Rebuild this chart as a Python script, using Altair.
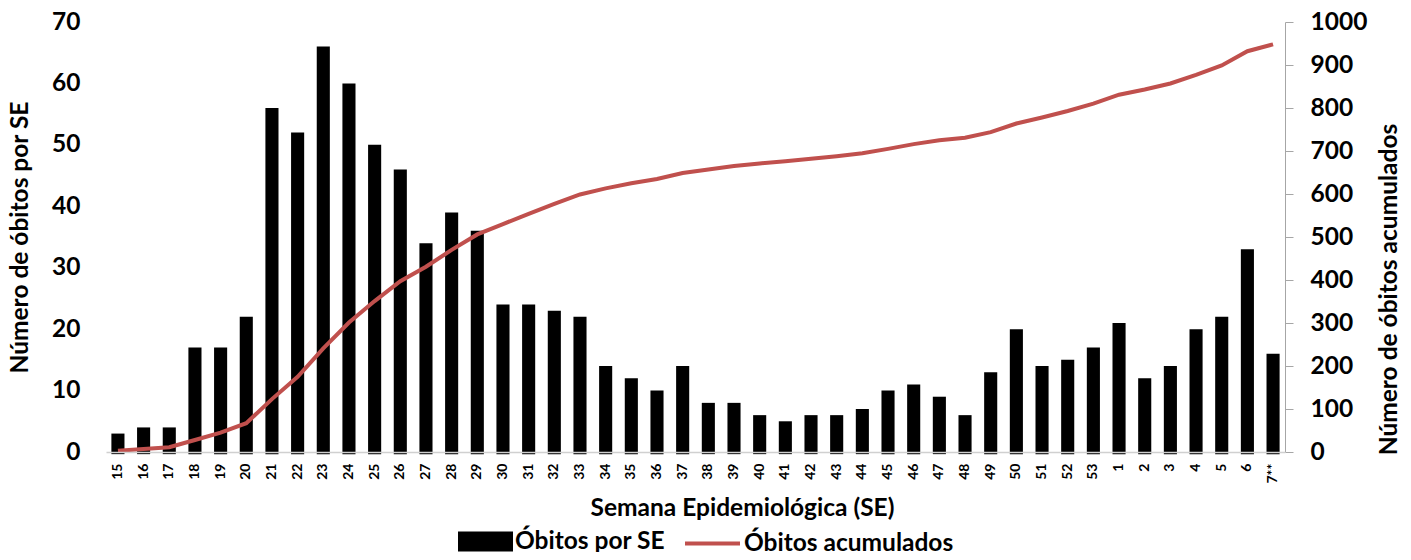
import altair as alt
import pandas as pd

semanas = ["15", "16", "17", "18", "19", "20", "21", "22", "23", "24", "25", "26", "27", "28",
           "29", "30", "31", "32", "33", "34", "35", "36", "37", "38", "39", "40", "41", "42",
           "43", "44", "45", "46", "47", "48", "49", "50", "51", "52", "53", "1", "2", "3",
           "4", "5", "6", "7**"]
obitos_se = [3, 4, 4, 17, 17, 22, 56, 52, 66, 60, 50, 46, 34, 39,
             36, 24, 24, 23, 22, 14, 12, 10, 14, 8, 8, 6, 5, 6,
             6, 7, 10, 11, 9, 6, 13, 20, 14, 15, 17, 21, 12, 14,
             20, 22, 33, 16]
obitos_acum = [3, 7, 11, 28, 45, 67, 123, 175, 241, 301, 351, 397, 431, 470,
               506, 530, 554, 577, 599, 613, 625, 635, 649, 657, 665, 671, 676, 682,
               688, 695, 705, 716, 725, 731, 744, 764, 778, 793, 810, 831, 843, 857,
               877, 899, 932, 948]

df = pd.DataFrame({
    "SE": semanas,
    "obitos": obitos_se,
    "acum": obitos_acum,
    "s1": ["Óbitos por SE"] * len(semanas),
    "s2": ["Óbitos acumulados"] * len(semanas),
})

FONT = "Lato"
RED = "#C0504D"
TICK = 24.5
TITLE = 24.5

x_enc = alt.X(
    "SE:N", sort=semanas,
    scale=alt.Scale(paddingInner=0.49, paddingOuter=0.21),
    axis=alt.Axis(
        title="Semana Epidemiológica (SE)", labelAngle=270, labelFontSize=14,
        labelFont=FONT, labelFontWeight="bold", labelColor="black", labelPadding=11,
        ticks=False, domainColor="#D0D0D0", domainWidth=1.5, zindex=1,
        titleFont=FONT, titleFontSize=TITLE, titleFontWeight="bold", titleColor="black",
        titleX=636, titleY=56, titleBaseline="middle", titleAnchor="start", titleAlign="center",
    ),
)

bars = alt.Chart(df).mark_bar().encode(
    x=x_enc,
    y=alt.Y("obitos:Q", scale=alt.Scale(domain=[0, 70]),
            axis=alt.Axis(title="Número de óbitos por SE", values=list(range(0, 71, 10)),
                          orient="left", domain=False, ticks=False, grid=False,
                          labelFont=FONT, labelFontSize=TICK, labelFontWeight="bold",
                          labelColor="black", labelPadding=26,
                          titleFont=FONT, titleFontSize=TITLE, titleFontWeight="bold",
                          titleColor="black", titlePadding=19)),
    y2=alt.Y2(datum=-0.35),
    fill=alt.Fill("s1:N", scale=alt.Scale(domain=["Óbitos por SE"], range=["black"]),
                  legend=alt.Legend(title=None, orient="none", legendX=352, legendY=492,
                                    symbolType="M-1,-0.36H1V0.36H-1Z", symbolSize=3025,
                                    symbolStrokeWidth=0, labelOffset=2, labelLimit=400,
                                    labelFont=FONT, labelFontSize=TITLE, labelFontWeight="bold",
                                    labelColor="black")),
)

line = alt.Chart(df).mark_line(strokeWidth=4).encode(
    x=alt.X("SE:N", sort=semanas),
    y=alt.Y("acum:Q", scale=alt.Scale(domain=[0, 1000]),
            axis=alt.Axis(title="Número de óbitos acumulados", values=list(range(0, 1001, 100)),
                          format="d",
                          orient="right", grid=False, domainColor="#A6A6A6", tickColor="#A6A6A6",
                          tickSize=8, labelFont=FONT, labelFontSize=TICK, labelFontWeight="bold",
                          labelColor="black", labelPadding=17,
                          titleFont=FONT, titleFontSize=TITLE, titleFontWeight="bold",
                          titleColor="black", titleAngle=270, titleY=267, titlePadding=35)),
    stroke=alt.Stroke("s2:N", scale=alt.Scale(domain=["Óbitos acumulados"], range=[RED]),
                      legend=alt.Legend(title=None, orient="none", legendX=577, legendY=492,
                                        symbolType="stroke", symbolSize=3025,
                                        symbolStrokeWidth=4, labelOffset=2, labelLimit=400,
                                        labelFont=FONT, labelFontSize=TITLE, labelFontWeight="bold",
                                        labelColor="black")),
)

chart = alt.layer(bars, line).resolve_scale(y="independent").properties(
    width=1179, height=430,
    autosize=alt.AutoSizeParams(type="none"),
    padding={"left": 98, "top": 14, "right": 118, "bottom": 100},
).configure_view(stroke=None)

chart.save("out.html", embed_options={"renderer": "svg", "actions": False})
